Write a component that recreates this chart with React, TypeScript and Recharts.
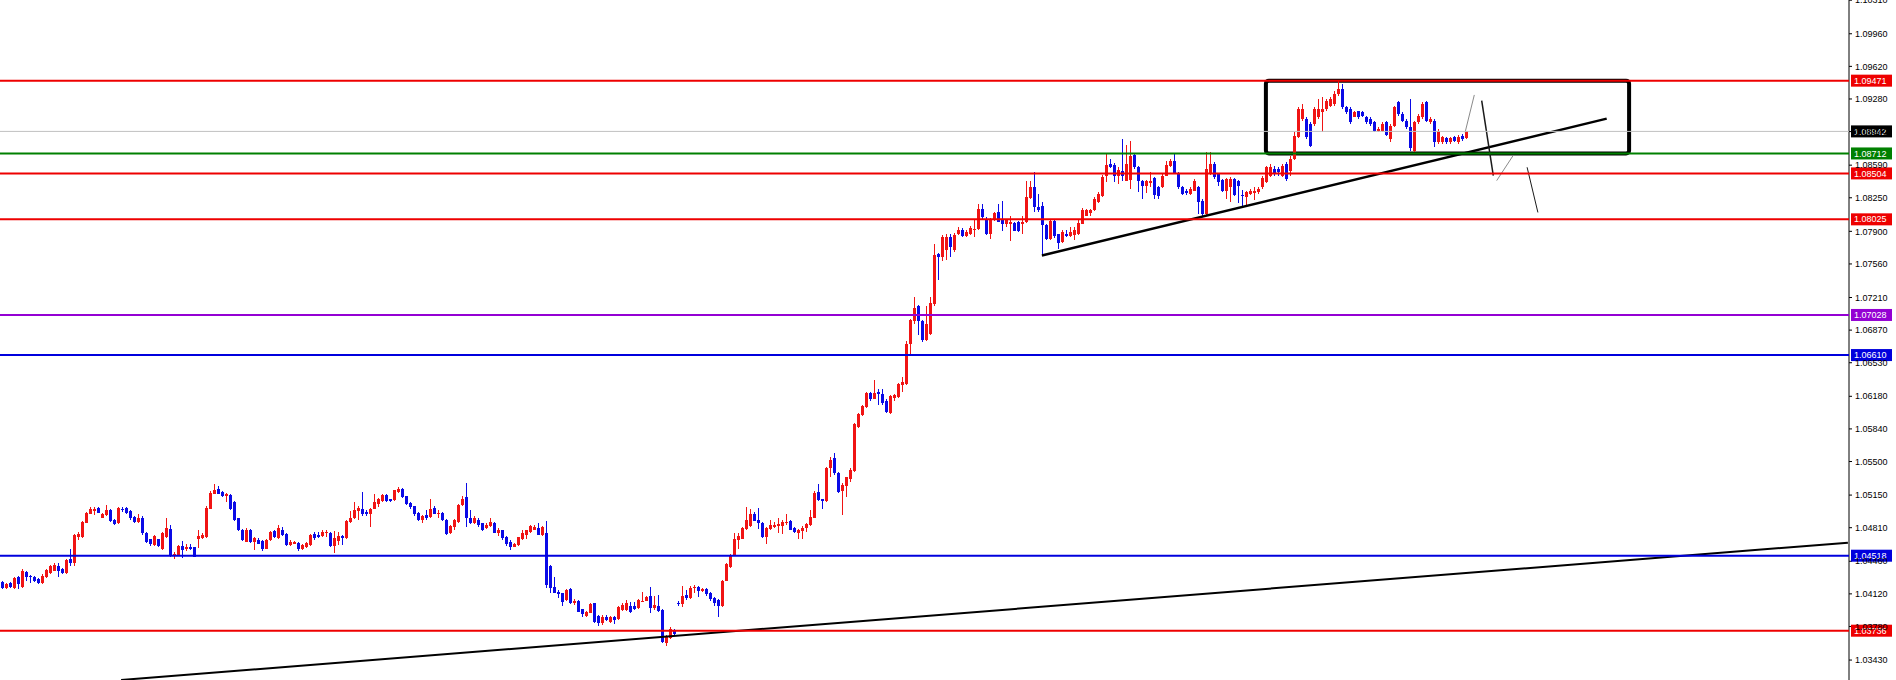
import { ComposedChart, Bar, XAxis, YAxis, ReferenceLine, ReferenceArea } from "recharts"

// each candle: [open, high, low, close]
type Candle = [number, number, number, number]

const earlyRange: Candle[] = [
  [1.04246, 1.04257, 1.04174, 1.04184], [1.04177, 1.04229, 1.04167, 1.04222], [1.04236, 1.04246, 1.04177, 1.04187],
  [1.04184, 1.04298, 1.04174, 1.04285], [1.04292, 1.04305, 1.04167, 1.04222], [1.04194, 1.04375, 1.04184, 1.04358],
  [1.04344, 1.04358, 1.04253, 1.04292], [1.04305, 1.04316, 1.04236, 1.04292], [1.04298, 1.04309, 1.04246, 1.04257],
  [1.04271, 1.04281, 1.04222, 1.04236], [1.04229, 1.04323, 1.04219, 1.04309], [1.04298, 1.04382, 1.04288, 1.04368],
  [1.04333, 1.04424, 1.04323, 1.0441], [1.04361, 1.04444, 1.04358, 1.0442], [1.0441, 1.04437, 1.04292, 1.04358],
  [1.04375, 1.04385, 1.04326, 1.04333], [1.0434, 1.04479, 1.0433, 1.04472], [1.04482, 1.04583, 1.0441, 1.04437],
  [1.04437, 1.04743, 1.0441, 1.04732], [1.04708, 1.04767, 1.0468, 1.04743], [1.04708, 1.04882, 1.04698, 1.04871],
  [1.04864, 1.04975, 1.04857, 1.04965], [1.04958, 1.05027, 1.04951, 1.0501], [1.04986, 1.05027, 1.04941, 1.0501],
  [1.05017, 1.05027, 1.04965, 1.04968], [1.04916, 1.04968, 1.04906, 1.04958], [1.04941, 1.05045, 1.0493, 1.04993],
  [1.04993, 1.05003, 1.04871, 1.04882], [1.04895, 1.04902, 1.04833, 1.04847], [1.04854, 1.05027, 1.04847, 1.05017],
  [1.05003, 1.05027, 1.04975, 1.05], [1.05017, 1.05027, 1.04954, 1.04965], [1.04986, 1.04993, 1.04895, 1.04916],
  [1.04923, 1.0493, 1.04857, 1.04867], [1.04867, 1.04958, 1.0486, 1.04916], [1.04916, 1.0493, 1.04736, 1.0475],
  [1.04757, 1.04764, 1.04652, 1.04663], [1.04687, 1.04694, 1.04618, 1.04635], [1.04628, 1.04729, 1.04618, 1.04722],
  [1.04687, 1.04694, 1.04608, 1.04618], [1.0459, 1.04767, 1.0458, 1.04757], [1.04715, 1.04906, 1.04698, 1.04809],
  [1.04795, 1.04843, 1.04507, 1.04514], [1.04514, 1.04559, 1.04479, 1.04535], [1.04524, 1.04628, 1.04517, 1.04618],
  [1.04618, 1.0467, 1.04489, 1.04576], [1.04583, 1.04645, 1.0457, 1.04604], [1.04611, 1.04635, 1.04576, 1.04583],
  [1.04604, 1.04611, 1.045, 1.04507], [1.04687, 1.04784, 1.04594, 1.04722], [1.04698, 1.0475, 1.04687, 1.04732],
  [1.04708, 1.05031, 1.04698, 1.0502], [1.0501, 1.0519, 1.05003, 1.05173], [1.05166, 1.0527, 1.05159, 1.05208],
  [1.05218, 1.05242, 1.05159, 1.05166], [1.05183, 1.0519, 1.05131, 1.05138], [1.05138, 1.05176, 1.05079, 1.05166],
  [1.05149, 1.05159, 1.04993, 1.05], [1.05079, 1.0509, 1.04878, 1.04895], [1.04906, 1.04916, 1.04778, 1.04784],
  [1.04791, 1.04798, 1.0467, 1.0468], [1.04663, 1.04802, 1.04656, 1.04791], [1.04791, 1.04798, 1.04649, 1.04656],
  [1.04656, 1.04715, 1.04576, 1.04698], [1.0468, 1.04698, 1.04638, 1.04645], [1.04673, 1.0468, 1.04569, 1.04583],
  [1.04593, 1.04687, 1.04583, 1.0468], [1.0468, 1.04778, 1.0467, 1.04767], [1.04774, 1.04784, 1.04701, 1.04708],
  [1.04698, 1.04843, 1.04687, 1.04802], [1.04791, 1.04819, 1.04722, 1.04732], [1.04743, 1.0475, 1.04618, 1.04628],
  [1.04628, 1.0468, 1.04618, 1.04663], [1.04645, 1.0467, 1.04635, 1.04663], [1.04652, 1.04663, 1.04569, 1.04583],
]

const midRange: Candle[] = [
  [1.04583, 1.04639, 1.04576, 1.04625], [1.04604, 1.0466, 1.04597, 1.04646], [1.04628, 1.04742, 1.04621, 1.04732],
  [1.04743, 1.04767, 1.04677, 1.04698], [1.04732, 1.04767, 1.04698, 1.04715], [1.04722, 1.04784, 1.04715, 1.04767],
  [1.0475, 1.04791, 1.04715, 1.04767], [1.04757, 1.04767, 1.04611, 1.04618], [1.04618, 1.04777, 1.04548, 1.04698],
  [1.04673, 1.04767, 1.04628, 1.04722], [1.04722, 1.04736, 1.04628, 1.04698], [1.04698, 1.04888, 1.04691, 1.04882],
  [1.04871, 1.04986, 1.04864, 1.04916], [1.04906, 1.05079, 1.04899, 1.04993], [1.04986, 1.05034, 1.04889, 1.0502],
  [1.0501, 1.05183, 1.0493, 1.04958], [1.04976, 1.04993, 1.0493, 1.04951], [1.04951, 1.05017, 1.04819, 1.0501],
  [1.0501, 1.05166, 1.05003, 1.05079], [1.05062, 1.05124, 1.05027, 1.05104], [1.0509, 1.05166, 1.0508, 1.05149],
  [1.05156, 1.05166, 1.05083, 1.0509], [1.05104, 1.05114, 1.05079, 1.0509], [1.05097, 1.05208, 1.0509, 1.05201],
  [1.05183, 1.05235, 1.05176, 1.05218], [1.05211, 1.05221, 1.05124, 1.05131], [1.05138, 1.05145, 1.05048, 1.05055],
  [1.05069, 1.05079, 1.0501, 1.05027], [1.05034, 1.05041, 1.04937, 1.04951], [1.04965, 1.04975, 1.04882, 1.04889],
  [1.04889, 1.04944, 1.04854, 1.0493], [1.04941, 1.04999, 1.04895, 1.04906], [1.04923, 1.05104, 1.04913, 1.0501],
  [1.0502, 1.05034, 1.04951, 1.04958], [1.04951, 1.04999, 1.04906, 1.04965], [1.04965, 1.04975, 1.04882, 1.04889],
  [1.04895, 1.04902, 1.04735, 1.04743], [1.0475, 1.04833, 1.04743, 1.04826], [1.04819, 1.04902, 1.04784, 1.04895],
  [1.04871, 1.05062, 1.04864, 1.05045], [1.05045, 1.05138, 1.05041, 1.05114], [1.05131, 1.05277, 1.04819, 1.04906],
  [1.04906, 1.04999, 1.04851, 1.04861], [1.04854, 1.0493, 1.04847, 1.04906],
]

const slideCandles: Candle[] = [
  [1.04895, 1.04906, 1.04818, 1.04836], [1.04854, 1.04864, 1.04777, 1.04791], [1.04802, 1.04854, 1.04795, 1.04843],
  [1.04826, 1.04906, 1.04819, 1.04871], [1.04864, 1.04871, 1.04753, 1.04757], [1.0475, 1.04812, 1.04722, 1.04784],
  [1.04784, 1.04791, 1.04684, 1.04698], [1.04715, 1.04722, 1.04618, 1.04639], [1.04663, 1.0468, 1.04576, 1.04611],
  [1.04611, 1.04646, 1.04604, 1.04639], [1.04628, 1.04715, 1.04618, 1.04708], [1.04687, 1.04784, 1.0468, 1.04757],
  [1.04732, 1.04791, 1.04687, 1.04784], [1.04767, 1.04843, 1.04757, 1.04826], [1.04791, 1.04843, 1.04784, 1.04819],
  [1.04812, 1.04854, 1.04732, 1.04732], [1.04732, 1.04826, 1.04725, 1.04819], [1.04757, 1.04878, 1.04177, 1.04212],
  [1.0441, 1.0442, 1.04132, 1.04177], [1.04194, 1.04299, 1.04129, 1.04132], [1.04142, 1.0416, 1.04073, 1.04118],
  [1.04125, 1.04132, 1.03993, 1.04038], [1.04056, 1.0417, 1.04045, 1.0416], [1.04167, 1.04177, 1.04011, 1.04028],
  [1.04028, 1.04063, 1.04004, 1.04049], [1.04045, 1.04056, 1.03928, 1.03934], [1.03959, 1.03966, 1.03882, 1.0391],
  [1.03889, 1.03945, 1.03879, 1.03934], [1.03924, 1.04021, 1.03917, 1.04014], [1.04021, 1.04028, 1.03813, 1.0383],
  [1.03889, 1.03896, 1.03785, 1.03813], [1.03813, 1.03896, 1.03792, 1.03875], [1.03882, 1.03899, 1.03837, 1.03847],
  [1.0383, 1.03889, 1.03813, 1.03882], [1.03882, 1.03889, 1.03806, 1.03847], [1.03854, 1.03993, 1.03847, 1.03986],
  [1.03952, 1.04021, 1.03945, 1.04004], [1.03952, 1.04056, 1.03945, 1.04028], [1.03993, 1.04038, 1.03917, 1.03934],
  [1.03993, 1.04038, 1.03952, 1.03959], [1.03969, 1.04063, 1.03962, 1.04056], [1.04038, 1.04142, 1.04031, 1.04049],
  [1.04049, 1.04097, 1.04042, 1.0409], [1.041, 1.04194, 1.03917, 1.03969], [1.03969, 1.04097, 1.03952, 1.04003],
  [1.03996, 1.04107, 1.03931, 1.03945], [1.03951, 1.03962, 1.03611, 1.03622], [1.03606, 1.0369, 1.03577, 1.03669],
  [1.03656, 1.03771, 1.03645, 1.0375], [1.03736, 1.0375, 1.0369, 1.03701],
]

const recoveryCandles: Candle[] = [
  [1.04023, 1.04044, 1.03996, 1.04016], [1.04014, 1.04201, 1.03986, 1.04097], [1.04107, 1.04159, 1.04052, 1.04073],
  [1.04073, 1.04201, 1.04066, 1.04177], [1.04177, 1.04211, 1.04132, 1.04194], [1.04187, 1.04201, 1.04083, 1.04153],
  [1.04153, 1.04184, 1.04142, 1.0417], [1.0417, 1.0418, 1.041, 1.04118], [1.04132, 1.04142, 1.04049, 1.04063],
  [1.04073, 1.04083, 1.03996, 1.04028], [1.04056, 1.04066, 1.03875, 1.03993], [1.03993, 1.04267, 1.03986, 1.04257],
  [1.04257, 1.04444, 1.0425, 1.0443], [1.04395, 1.04535, 1.04385, 1.04524], [1.04524, 1.0475, 1.04514, 1.04687],
  [1.0468, 1.0475, 1.04583, 1.04722], [1.04697, 1.04819, 1.04687, 1.04812], [1.04801, 1.05027, 1.04791, 1.04895],
  [1.04826, 1.05, 1.04819, 1.04951], [1.04951, 1.04972, 1.04875, 1.04881], [1.04888, 1.0502, 1.04801, 1.04854],
  [1.0486, 1.04871, 1.047, 1.04708], [1.04708, 1.04819, 1.04645, 1.04812], [1.04801, 1.04895, 1.04791, 1.04836],
  [1.04819, 1.04871, 1.04812, 1.04836], [1.04826, 1.04906, 1.04756, 1.04846], [1.04826, 1.04888, 1.04742, 1.04871],
  [1.04854, 1.04951, 1.0484, 1.04871], [1.04881, 1.04888, 1.04784, 1.04791], [1.04812, 1.04819, 1.04756, 1.04767],
  [1.04756, 1.04798, 1.04697, 1.04784], [1.04777, 1.04826, 1.04697, 1.04812], [1.04812, 1.0486, 1.04767, 1.04846],
  [1.04836, 1.04993, 1.04826, 1.04923], [1.04916, 1.05194, 1.04909, 1.05173], [1.05183, 1.05263, 1.0509, 1.05097],
  [1.05104, 1.0511, 1.0501, 1.0509],
]

const rallyCandles: Candle[] = [
  [1.05091, 1.05439, 1.05081, 1.05428], [1.05428, 1.05549, 1.05341, 1.05515], [1.05532, 1.05584, 1.05359, 1.05376],
  [1.05376, 1.05393, 1.05168, 1.05185], [1.05195, 1.05272, 1.04942, 1.05255], [1.05244, 1.05341, 1.05133, 1.05334],
  [1.05313, 1.05428, 1.05289, 1.05411], [1.05404, 1.05903, 1.05394, 1.05896], [1.05862, 1.06004, 1.05848, 1.05994],
  [1.05983, 1.06094, 1.05976, 1.06077], [1.0607, 1.06226, 1.06053, 1.06216], [1.06219, 1.06226, 1.06132, 1.06157],
  [1.06157, 1.06355, 1.0615, 1.06216], [1.06223, 1.06261, 1.06087, 1.06202], [1.06202, 1.06261, 1.06094, 1.06112],
  [1.06132, 1.0615, 1.06001, 1.06018], [1.06008, 1.06195, 1.05994, 1.06181], [1.06167, 1.06205, 1.06132, 1.06191],
  [1.06174, 1.0632, 1.06167, 1.06313], [1.06296, 1.06382, 1.06226, 1.0633], [1.06306, 1.06757, 1.06299, 1.06729],
  [1.06729, 1.06986, 1.06618, 1.06972], [1.06965, 1.07215, 1.06937, 1.07104], [1.07118, 1.07135, 1.06816, 1.06965],
  [1.06965, 1.06979, 1.06747, 1.06764], [1.06771, 1.07125, 1.06757, 1.06937], [1.06833, 1.07215, 1.06823, 1.07153],
  [1.07139, 1.07763, 1.07125, 1.07649], [1.07659, 1.0767, 1.07396, 1.07631], [1.07631, 1.07857, 1.0759, 1.0784],
  [1.07701, 1.07867, 1.07597, 1.0784], [1.0784, 1.07874, 1.07631, 1.07736], [1.07701, 1.07881, 1.0768, 1.07857],
]

const plateauCandles: Candle[] = [
  [1.07875, 1.07944, 1.07857, 1.07916], [1.07916, 1.0793, 1.0784, 1.07847], [1.07847, 1.07909, 1.07836, 1.07892],
  [1.07868, 1.07951, 1.07857, 1.07937], [1.07909, 1.08013, 1.0784, 1.07927], [1.07927, 1.08187, 1.07916, 1.08135],
  [1.08135, 1.08187, 1.08031, 1.08048], [1.08031, 1.08048, 1.07864, 1.07875], [1.07868, 1.08034, 1.07823, 1.0802],
  [1.08013, 1.08104, 1.08006, 1.0809], [1.081, 1.08187, 1.07993, 1.07996], [1.08013, 1.08215, 1.07902, 1.07979],
  [1.07972, 1.0802, 1.07944, 1.08013], [1.07979, 1.08065, 1.07798, 1.07996], [1.07986, 1.08, 1.07902, 1.07902],
  [1.07996, 1.08006, 1.07892, 1.07902], [1.07979, 1.08065, 1.07875, 1.07996], [1.07996, 1.0843, 1.07986, 1.08256],
  [1.08249, 1.0843, 1.08242, 1.0836], [1.0836, 1.08517, 1.081, 1.08152], [1.08152, 1.08291, 1.081, 1.08118],
  [1.08159, 1.08204, 1.07649, 1.07961], [1.07961, 1.07975, 1.07812, 1.07823], [1.07823, 1.0802, 1.07812, 1.08007],
  [1.08007, 1.08031, 1.07826, 1.07847], [1.07868, 1.07875, 1.07718, 1.07777], [1.07788, 1.07916, 1.07777, 1.07892],
  [1.07875, 1.07909, 1.0784, 1.07847], [1.07847, 1.07944, 1.0784, 1.07892], [1.07857, 1.07944, 1.07805, 1.07909],
  [1.07875, 1.08013, 1.07864, 1.07986], [1.07979, 1.08145, 1.07972, 1.08118], [1.08065, 1.08131, 1.08058, 1.08118],
  [1.0809, 1.08135, 1.08065, 1.08118], [1.08118, 1.08263, 1.0811, 1.08239], [1.08204, 1.08308, 1.08194, 1.08291],
]

const ascendingCandles: Candle[] = [
  [1.08269, 1.08492, 1.08256, 1.08464], [1.08481, 1.08707, 1.08412, 1.08596], [1.08603, 1.08655, 1.08561, 1.08568],
  [1.08596, 1.0861, 1.08412, 1.08481], [1.08481, 1.08568, 1.08395, 1.0854], [1.08534, 1.08863, 1.08429, 1.08481],
  [1.08429, 1.08804, 1.08422, 1.08603], [1.08436, 1.08839, 1.08343, 1.0869], [1.087, 1.08707, 1.08554, 1.08568],
  [1.08575, 1.08585, 1.08308, 1.08422], [1.08422, 1.08436, 1.08238, 1.08377], [1.08377, 1.08436, 1.08298, 1.08422],
  [1.08402, 1.08516, 1.0836, 1.08429], [1.08457, 1.08471, 1.08239, 1.08284], [1.08367, 1.08377, 1.08239, 1.08273],
  [1.0836, 1.08499, 1.0835, 1.08481], [1.08481, 1.08638, 1.08474, 1.08596], [1.08585, 1.08655, 1.08575, 1.08638],
  [1.08638, 1.08707, 1.08498, 1.08506], [1.08506, 1.0852, 1.08343, 1.0836], [1.08367, 1.08377, 1.08284, 1.08291],
  [1.08325, 1.08343, 1.08284, 1.08298], [1.08291, 1.0836, 1.08284, 1.08343], [1.08325, 1.08447, 1.08318, 1.08429],
  [1.0836, 1.08377, 1.08082, 1.08204], [1.08221, 1.08235, 1.08065, 1.08076], [1.08076, 1.08724, 1.08065, 1.08551],
  [1.08499, 1.08724, 1.08492, 1.08603], [1.08603, 1.0862, 1.08443, 1.08464], [1.08499, 1.08509, 1.08377, 1.08412],
  [1.08436, 1.08447, 1.08308, 1.08318], [1.08325, 1.08457, 1.08239, 1.08447], [1.0836, 1.08464, 1.08204, 1.08447],
  [1.08447, 1.08457, 1.08273, 1.0828], [1.08429, 1.08436, 1.08193, 1.08377], [1.08284, 1.08332, 1.08159, 1.0828],
  [1.08263, 1.08325, 1.08169, 1.08308], [1.08291, 1.08343, 1.08284, 1.08318], [1.08298, 1.0836, 1.08228, 1.08325],
  [1.08308, 1.0836, 1.08291, 1.08343],
]

const boxCandles: Candle[] = [
  [1.0836, 1.0848, 1.08343, 1.0846], [1.08413, 1.08586, 1.084, 1.08569], [1.08482, 1.08603, 1.08465, 1.08569],
  [1.08551, 1.08586, 1.08482, 1.08499], [1.08551, 1.08569, 1.08482, 1.08517], [1.08482, 1.08603, 1.08465, 1.08586],
  [1.08603, 1.0862, 1.0843, 1.08447], [1.08534, 1.0869, 1.08482, 1.08655], [1.08655, 1.08933, 1.0864, 1.08898],
  [1.08888, 1.09193, 1.0887, 1.09176], [1.09072, 1.09228, 1.09054, 1.09176], [1.09072, 1.09089, 1.08864, 1.08881],
  [1.0902, 1.09037, 1.08777, 1.08794], [1.0902, 1.09193, 1.09002, 1.09176], [1.09089, 1.0928, 1.09072, 1.09176],
  [1.09141, 1.093, 1.08933, 1.09176], [1.09176, 1.0928, 1.09159, 1.09263], [1.09211, 1.09297, 1.09193, 1.0928],
  [1.09228, 1.09367, 1.09211, 1.09332], [1.09332, 1.09464, 1.09315, 1.09384], [1.09384, 1.0944, 1.09176, 1.09193],
  [1.09193, 1.09211, 1.09124, 1.09141], [1.09176, 1.09193, 1.0902, 1.09037], [1.09096, 1.09159, 1.09089, 1.09141],
  [1.09152, 1.09159, 1.09072, 1.09089], [1.09141, 1.09159, 1.09089, 1.09106], [1.09096, 1.09106, 1.0902, 1.09037],
  [1.09072, 1.09089, 1.09002, 1.0902], [1.09037, 1.09054, 1.08933, 1.0895], [1.08943, 1.08985, 1.08933, 1.08968],
  [1.0895, 1.09037, 1.08933, 1.0902], [1.09037, 1.09054, 1.08898, 1.08909], [1.08864, 1.0902, 1.08829, 1.09002],
  [1.09002, 1.09211, 1.08985, 1.09193], [1.09245, 1.09263, 1.09106, 1.09124], [1.09124, 1.09141, 1.09037, 1.09047],
  [1.09054, 1.09072, 1.08968, 1.08985], [1.08985, 1.0928, 1.08735, 1.0877], [1.08742, 1.09054, 1.08722, 1.09037],
  [1.09037, 1.09124, 1.0902, 1.09106], [1.09089, 1.09245, 1.09072, 1.09228], [1.09245, 1.09263, 1.09037, 1.09054],
  [1.09037, 1.09089, 1.0902, 1.09072], [1.09054, 1.09072, 1.08777, 1.08829], [1.08829, 1.08968, 1.08812, 1.0895],
  [1.08829, 1.08898, 1.08812, 1.08881], [1.08874, 1.08888, 1.08812, 1.08829], [1.08829, 1.08888, 1.08812, 1.08874],
  [1.08881, 1.08898, 1.08829, 1.08846], [1.08829, 1.08909, 1.08812, 1.08888], [1.08898, 1.08915, 1.08846, 1.08864],
  [1.08874, 1.0895, 1.08864, 1.08943],
]

const candles = [
  ...earlyRange, ...midRange, ...slideCandles, ...recoveryCandles,
  ...rallyCandles, ...plateauCandles, ...ascendingCandles, ...boxCandles,
].map(([o, h, l, c], i) => ({ i, o, h, l, c }))

// right price scale
const priceTicks = [
  1.1031, 1.0996, 1.0962, 1.0928, 1.0894, 1.0859, 1.0825, 1.079, 1.0756, 1.0721,
  1.0687, 1.0653, 1.0618, 1.0584, 1.055, 1.0515, 1.0481, 1.0446, 1.0412, 1.0378, 1.0343,
]

// horizontal levels
const redLevels = [1.09471, 1.08504, 1.08025, 1.03736]
const greenLevels = [1.08712]
const purpleLevels = [1.07028]
const blueLevels = [1.0661, 1.04518]
const lastPrice = 1.08942

// drawn objects, as [bar index, price]
const longTrend = [[29.6, 1.03222], [461.3, 1.04654]]
const shortTrend = [[259.8, 1.07648], [401, 1.09075]]
const rangeBox = { from: 315.8, to: 406.6, low: 1.08712, high: 1.09471 }
const forecastLegs = [
  [[365.6, 1.08932], [367.9, 1.09322]],
  [[369.75, 1.09262], [372.65, 1.08481]],
  [[373.5, 1.08429], [377.6, 1.0869]],
  [[381.1, 1.08568], [383.8, 1.08097]],
]

const BULL = "#f01414"
const BEAR = "#0a0ae6"
const FONT = "'Liberation Sans', Arial, sans-serif"

function CandleShape(props: any) {
  const { x, y, width, height, payload } = props
  if (!payload || height == null || isNaN(y)) return null
  const { o, h, l, c } = payload
  const cx = Math.round(x + width / 2)
  const k = h > l ? height / (h - l) : 0
  const top = y + (h - Math.max(o, c)) * k
  const bottom = y + (h - Math.min(o, c)) * k
  const color = c > o ? BULL : c < o ? BEAR : "#000"
  return (
    <g shapeRendering="crispEdges">
      <rect x={cx} y={y} width={1} height={Math.max(1, height)} fill={color} />
      <rect x={cx - 1} y={top} width={3} height={Math.max(1, bottom - top)} fill={color} />
    </g>
  )
}

function PriceTag(props: any) {
  const { viewBox, tagColor, tagText } = props
  if (!viewBox) return null
  const x = viewBox.x + viewBox.width + 2
  const y = viewBox.y
  return (
    <g>
      <rect x={x} y={y - 6} width={41} height={12} fill={tagColor} />
      <text x={x + 3} y={y} dy="0.35em" fontSize={9} fill="#fff" fontFamily={FONT}>
        {tagText}
      </text>
    </g>
  )
}

function level(price: number, color: string, width: number, key: string) {
  return (
    <ReferenceLine
      key={key}
      y={price}
      stroke={color}
      strokeWidth={width}
      ifOverflow="visible"
      zIndex={1000}
      label={<PriceTag tagColor={color} tagText={price.toFixed(5)} />}
    />
  )
}

export default function App() {
  return (
    <div style={{ position: "absolute", left: 0, top: 0, background: "#fff" }}>
      <ComposedChart width={1896} height={680} data={candles} margin={{ top: 0, right: 0, bottom: 0, left: 0 }}>
        <XAxis type="number" dataKey="i" domain={[-0.675, 461.575]} allowDataOverflow hide />
        <YAxis
          orientation="right"
          width={47}
          domain={[1.03222, 1.10312]}
          allowDataOverflow
          ticks={priceTicks}
          interval={0}
          tickFormatter={(v: number) => v.toFixed(5)}
          tick={{ fontSize: 9, fill: "#000", fontFamily: FONT }}
          tickSize={3}
          tickMargin={3}
          axisLine={{ stroke: "#000" }}
          tickLine={{ stroke: "#000" }}
        />
        <Bar
          dataKey={(d: any) => [d.l, d.h]}
          barSize={3}
          shape={<CandleShape />}
          isAnimationActive={false}
        />
        <ReferenceLine y={lastPrice} stroke="#c0c0c0" strokeWidth={1} ifOverflow="visible" zIndex={1000}
          label={<PriceTag tagColor="#000" tagText={lastPrice.toFixed(5)} />} />
        {redLevels.map((p, k) => level(p, "#ee0000", 2, "r" + k))}
        {greenLevels.map((p, k) => level(p, "#008000", 2, "g" + k))}
        {purpleLevels.map((p, k) => level(p, "#9400d3", 2, "p" + k))}
        {blueLevels.map((p, k) => level(p, "#0000dd", 2, "b" + k))}
        <ReferenceLine
          segment={longTrend.map(([i, p]) => ({ x: i, y: p }))}
          stroke="#000"
          strokeWidth={2}
          ifOverflow="visible"
        />
        <ReferenceLine
          segment={shortTrend.map(([i, p]) => ({ x: i, y: p }))}
          stroke="#000"
          strokeWidth={2.5}
          ifOverflow="visible"
        />
        <ReferenceArea
          x1={rangeBox.from}
          x2={rangeBox.to}
          y1={rangeBox.low}
          y2={rangeBox.high}
          fill="none"
          fillOpacity={0}
          stroke="#000"
          strokeWidth={4}
          radius={3}
          ifOverflow="visible"
        />
        {forecastLegs.map((leg, k) => (
          <ReferenceLine
            key={"f" + k}
            segment={leg.map(([i, p]) => ({ x: i, y: p }))}
            stroke={k % 2 === 0 ? "#8a8a8a" : "#1a1a1a"}
            strokeWidth={k === 1 ? 1.5 : 1}
            ifOverflow="visible"
          />
        ))}
      </ComposedChart>
    </div>
  )
}
